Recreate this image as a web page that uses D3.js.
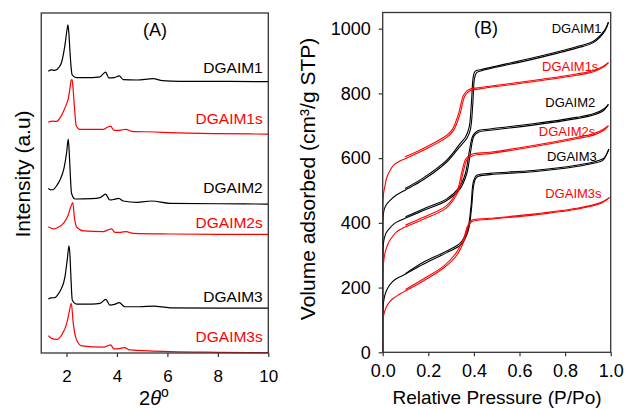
<!DOCTYPE html>
<html>
<head>
<meta charset="utf-8">
<script src="https://cdn.jsdelivr.net/npm/d3@7"></script>
<style>
  body { margin: 0; background: #fff; }
  svg text { font-family: "Liberation Sans", Arial, sans-serif; }
</style>
</head>
<body>
<svg id="chart" width="625" height="409"></svg>
<script>
// ---- panel A: XRD traces, [2theta, intensity (a.u., stacked)] ----
const xrd1 = [[1.28,82.9],[1.4,83.3],[1.54,83.1],[1.7,84.0],[1.81,85.6],[1.94,90.6],[2.02,95.0],[2.06,96.5],[2.10,93.5],[2.14,88.5],[2.19,83.5],[2.23,81.7],[2.40,81.0],[3.0,81.0],[3.33,81.2],[3.48,82.3],[3.55,82.6],[3.68,80.9],[3.9,81.0],[4.09,81.5],[4.25,80.4],[4.8,80.3],[5.43,80.7],[5.8,80.1],[6.5,79.9],[8,79.9],[10,79.8]];
const xrd1s = [[1.28,67.9],[1.45,68.2],[1.61,68.1],[1.75,69.2],[1.87,70.9],[2.0,73.2],[2.07,74.8],[2.14,78.0],[2.19,80.3],[2.22,80.4],[2.26,78.0],[2.30,73.8],[2.34,70.0],[2.38,67.0],[2.53,65.8],[3.46,65.8],[3.62,66.4],[3.75,66.7],[3.88,65.5],[4.1,65.5],[4.36,65.8],[4.58,65.2],[5.5,65.0],[6.1,64.8],[8,64.5],[10,64.4]];
const xrd2 = [[1.28,48.4],[1.38,48.0],[1.48,48.1],[1.62,49.3],[1.74,50.9],[1.90,54.3],[2.01,59.2],[2.07,62.9],[2.11,59.0],[2.14,54.3],[2.20,47.0],[2.34,45.3],[3.0,45.4],[3.33,45.7],[3.55,46.7],[3.72,45.0],[3.9,45.2],[4.07,45.5],[4.25,44.7],[4.8,44.3],[5.37,44.7],[6.1,44.0],[8,43.9],[10,43.8]];
const xrd2s = [[1.28,37.1],[1.48,36.5],[1.65,36.9],[1.81,37.6],[2.0,39.5],[2.07,40.6],[2.17,43.0],[2.25,44.2],[2.31,40.1],[2.40,37.1],[2.67,35.9],[3.46,35.7],[3.65,36.2],[3.79,36.5],[3.92,35.5],[4.15,35.5],[4.36,35.7],[4.65,35.2],[6.1,35.0],[8,34.9],[10,34.9]];
const xrd3 = [[1.28,15.9],[1.4,16.2],[1.54,16.3],[1.66,17.2],[1.77,18.5],[1.94,22.4],[2.03,27.4],[2.10,31.5],[2.14,28.5],[2.17,23.4],[2.23,15.6],[2.40,14.4],[3.0,14.4],[3.33,14.6],[3.56,15.8],[3.72,14.1],[3.9,14.3],[4.09,14.8],[4.32,13.6],[4.9,13.6],[5.44,13.8],[6.1,13.3],[8,13.2],[10,13.2]];
const xrd3s = [[1.28,5.1],[1.41,4.3],[1.61,4.0],[1.81,5.3],[2.01,8.7],[2.11,12.1],[2.19,14.6],[2.27,8.7],[2.38,4.3],[2.60,2.1],[3.46,1.7],[3.62,2.1],[3.75,2.4],[3.88,1.2],[4.1,1.3],[4.29,1.6],[4.51,0.9],[6.1,0.4],[8,0.2],[10,0.1]];

// ---- panel B: N2 isotherms, [P/Po, volume cm3/g STP] ----
const iso1Ads = [[0,0],[0.0005,350],[0.002,415],[0.006,440],[0.015,455],[0.03,468],[0.06,486],[0.098,501],[0.178,533],[0.281,588],[0.325,624],[0.35,645],[0.37,662],[0.385,690],[0.395,765],[0.403,848],[0.412,864],[0.434,870],[0.66,906],[0.85,940],[0.924,957],[0.975,993],[0.99,1020]];
const iso1Des = [[0.99,1020],[0.975,997],[0.924,961],[0.85,944],[0.66,910],[0.434,874],[0.405,868],[0.397,850],[0.389,770],[0.379,695],[0.363,665],[0.343,648],[0.281,594],[0.178,539],[0.098,506]];
const iso1sAds = [[0,0],[0.0005,400],[0.003,485],[0.01,515],[0.018,540],[0.032,562],[0.05,580],[0.075,591],[0.098,598],[0.178,624],[0.281,664],[0.31,685],[0.339,736],[0.361,793],[0.383,808],[0.427,814],[0.66,836],[0.85,856],[0.924,867],[0.97,882],[0.99,895]];
const iso1sDes = [[0.99,895],[0.97,885],[0.924,871],[0.85,860],[0.66,840],[0.427,818],[0.378,812],[0.355,795],[0.333,738],[0.305,688],[0.28,670],[0.178,630],[0.098,604]];
const iso2Ads = [[0,0],[0.0005,270],[0.003,335],[0.008,355],[0.016,370],[0.03,383],[0.054,399],[0.075,407],[0.098,414],[0.178,438],[0.281,469],[0.339,505],[0.368,551],[0.386,622],[0.40,668],[0.419,680],[0.47,686],[0.66,702],[0.85,722],[0.924,733],[0.97,748],[0.99,766]];
const iso2Des = [[0.99,766],[0.97,752],[0.924,737],[0.85,726],[0.66,706],[0.47,690],[0.415,684],[0.395,668],[0.38,622],[0.362,551],[0.334,508],[0.281,474],[0.178,443],[0.1,419]];
const iso2sAds = [[0,0],[0.0005,210],[0.002,260],[0.006,290],[0.012,312],[0.022,333],[0.035,350],[0.061,372],[0.098,387],[0.178,411],[0.281,447],[0.332,498],[0.354,560],[0.371,597],[0.397,608],[0.47,614],[0.66,635],[0.85,660],[0.924,671],[0.97,686],[0.99,700]];
const iso2sDes = [[0.99,700],[0.97,690],[0.924,675],[0.85,664],[0.66,639],[0.47,618],[0.39,612],[0.365,598],[0.348,560],[0.327,500],[0.28,453],[0.178,417],[0.1,393]];
const iso3Ads = [[0,0],[0.0005,110],[0.003,150],[0.008,172],[0.015,188],[0.025,202],[0.04,216],[0.061,228],[0.09,238],[0.178,272],[0.281,308],[0.346,334],[0.375,375],[0.39,448],[0.40,520],[0.412,541],[0.47,549],[0.66,558],[0.85,574],[0.924,584],[0.967,594],[0.982,612],[0.992,628]];
const iso3Des = [[0.992,628],[0.97,600],[0.924,588],[0.85,578],[0.66,562],[0.47,553],[0.41,546],[0.397,525],[0.387,450],[0.372,378],[0.343,340],[0.281,313],[0.178,278],[0.1,243]];
const iso3sAds = [[0,0],[0.0005,80],[0.003,108],[0.008,125],[0.018,143],[0.03,155],[0.047,167],[0.07,178],[0.09,186],[0.18,221],[0.27,262],[0.325,300],[0.36,350],[0.376,390],[0.392,404],[0.47,411],[0.66,424],[0.85,442],[0.95,458],[0.98,470],[0.995,478]];
const iso3sDes = [[0.995,478],[0.95,461],[0.85,445],[0.66,427],[0.47,414],[0.39,408],[0.372,390],[0.355,352],[0.32,305],[0.27,268],[0.18,227],[0.1,194]];

const sampleNames = ["DGAIM1", "DGAIM1s", "DGAIM2", "DGAIM2s", "DGAIM3", "DGAIM3s"];
const sampleColors = ["#000000", "#ff0000", "#000000", "#ff0000", "#000000", "#ff0000"];
const xrdTraces = [xrd1, xrd1s, xrd2, xrd2s, xrd3, xrd3s];
const isoBranches = [[iso1Ads, iso1Des], [iso1sAds, iso1sDes], [iso2Ads, iso2Des],
                     [iso2sAds, iso2sDes], [iso3Ads, iso3Des], [iso3sAds, iso3sDes]];
const xTicksA = [2, 4, 6, 8, 10];
const xTicksB = [0, 0.2, 0.4, 0.6, 0.8, 1.0];
const yTicksB = [0, 200, 400, 600, 800, 1000];

const svg = d3.select("#chart");

// ===== panel A =====
const xA = d3.scaleLinear().domain([1, 10]).range([41.25, 268.3]);
const yA = d3.scaleLinear().domain([0, 100]).range([353, 13]);

const gA = svg.append("g");

gA.append("g")
  .attr("transform", "translate(0,353)")
  .call(d3.axisBottom(xA).tickValues(xTicksA).tickFormat(d3.format("d"))
    .tickSize(4).tickPadding(13).tickSizeOuter(0))
  .call(g => g.select(".domain").remove())
  .call(g => g.selectAll("line").attr("stroke", "#333").attr("stroke-width", 1.2))
  .call(g => g.selectAll("text").attr("font-size", 17).attr("fill", "#000")
    .style("font-family", '"Liberation Sans", Arial, sans-serif'));

const lineA = d3.line()
  .x(d => xA(d[0]))
  .y(d => yA(d[1]))
  .curve(d3.curveMonotoneX);

gA.selectAll("path.xrd")
  .data(xrdTraces)
  .enter()
  .append("path")
  .attr("class", "xrd")
  .attr("d", lineA)
  .attr("fill", "none")
  .attr("stroke", (d, i) => sampleColors[i])
  .attr("stroke-width", 1.2);

gA.append("rect")
  .attr("x", xA(1)).attr("y", yA(100))
  .attr("width", xA(10) - xA(1)).attr("height", yA(0) - yA(100))
  .attr("fill", "none").attr("stroke", "#333").attr("stroke-width", 1.3);

// sample labels, right aligned
const labelYA = [82.5, 67.4, 47.1, 36.8, 15.0, 3.1];
gA.selectAll("text.lab")
  .data(sampleNames)
  .enter()
  .append("text")
  .attr("class", "lab")
  .attr("x", xA(9.78))
  .attr("y", (d, i) => yA(labelYA[i]))
  .attr("text-anchor", "end")
  .attr("font-size", 15.5)
  .attr("fill", (d, i) => sampleColors[i])
  .text(d => d);

gA.append("text")
  .attr("x", 155).attr("y", 36)
  .attr("text-anchor", "middle").attr("font-size", 18)
  .text("(A)");

// x title: 2θ°
const tA = gA.append("text")
  .attr("x", 154).attr("y", 405)
  .attr("text-anchor", "middle").attr("font-size", 20);
tA.append("tspan").text("2");
tA.append("tspan").attr("font-style", "italic").text("θ");
tA.append("tspan").attr("font-size", 14).attr("dy", -8).text("o");

gA.append("text")
  .attr("transform", "translate(30,174) rotate(-90)")
  .attr("text-anchor", "middle").attr("font-size", 21)
  .text("Intensity (a.u)");

// ===== panel B =====
const xB = d3.scaleLinear().domain([0, 1]).range([382.7, 610.7]);
const yB = d3.scaleLinear().domain([0, 1050]).range([352.3, 12.5]);

const gB = svg.append("g");

svg.append("clipPath").attr("id", "clipB")
  .append("rect")
  .attr("x", xB(0)).attr("y", yB(1050))
  .attr("width", xB(1) - xB(0)).attr("height", yB(0) - yB(1050));

gB.append("g")
  .attr("transform", "translate(0," + yB(0) + ")")
  .call(d3.axisBottom(xB).tickValues(xTicksB).tickFormat(d3.format(".1f"))
    .tickSize(4).tickPadding(8).tickSizeOuter(0))
  .call(g => g.select(".domain").remove())
  .call(g => g.selectAll("line").attr("stroke", "#333").attr("stroke-width", 1.2))
  .call(g => g.selectAll("text").attr("font-size", 18).attr("fill", "#000")
    .style("font-family", '"Liberation Sans", Arial, sans-serif'));

gB.append("g")
  .attr("transform", "translate(" + xB(0) + ",0)")
  .call(d3.axisLeft(yB).tickValues(yTicksB).tickFormat(d3.format("d"))
    .tickSize(4).tickPadding(8).tickSizeOuter(0))
  .call(g => g.select(".domain").remove())
  .call(g => g.selectAll("line").attr("stroke", "#333").attr("stroke-width", 1.2))
  .call(g => g.selectAll("text").attr("font-size", 18).attr("fill", "#000")
    .style("font-family", '"Liberation Sans", Arial, sans-serif'));

const lineB = d3.line()
  .x(d => xB(d[0]))
  .y(d => yB(d[1]))
  .curve(d3.curveCatmullRom.alpha(0.5));

const plotB = gB.append("g").attr("clip-path", "url(#clipB)");
isoBranches.forEach((branches, i) => {
  plotB.selectAll(null)
    .data(branches)
    .enter()
    .append("path")
    .attr("d", lineB)
    .attr("fill", "none")
    .attr("stroke", sampleColors[i])
    .attr("stroke-width", 1.1);
});

gB.append("rect")
  .attr("x", xB(0)).attr("y", yB(1050))
  .attr("width", xB(1) - xB(0)).attr("height", yB(0) - yB(1050))
  .attr("fill", "none").attr("stroke", "#333").attr("stroke-width", 1.3);

const labelPB = [0.960, 0.946, 0.932, 0.932, 0.939, 0.960];
const labelVB = [987, 869, 758, 667, 590, 477];
gB.selectAll("text.lab")
  .data(sampleNames)
  .enter()
  .append("text")
  .attr("class", "lab")
  .attr("x", (d, i) => xB(labelPB[i]))
  .attr("y", (d, i) => yB(labelVB[i]))
  .attr("text-anchor", "end")
  .attr("font-size", 13)
  .attr("fill", (d, i) => sampleColors[i])
  .text(d => d);

gB.append("text")
  .attr("x", 486).attr("y", 34)
  .attr("text-anchor", "middle").attr("font-size", 18)
  .text("(B)");

gB.append("text")
  .attr("x", 497).attr("y", 404)
  .attr("text-anchor", "middle").attr("font-size", 19)
  .text("Relative Pressure (P/Po)");

gB.append("text")
  .attr("transform", "translate(315,179) rotate(-90)")
  .attr("text-anchor", "middle").attr("font-size", 21)
  .text("Volume adsorbed (cm³/g STP)");
</script>
</body>
</html>
